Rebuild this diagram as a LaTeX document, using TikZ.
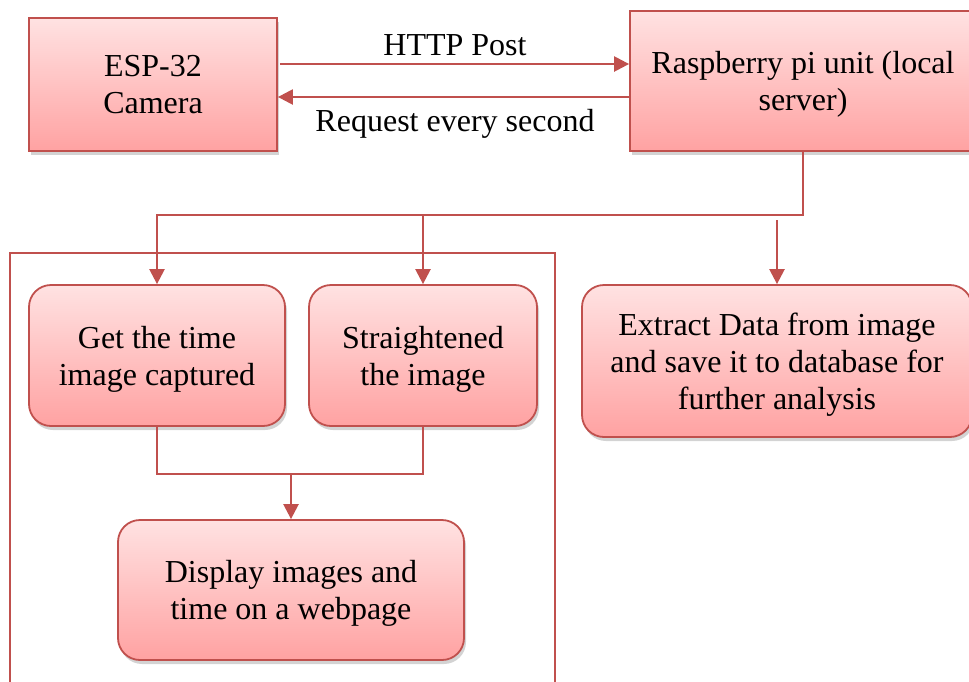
\documentclass[tikz,border=0pt]{standalone}
\usepackage{fontspec}
\setmainfont{Liberation Serif}
\usetikzlibrary{arrows.meta,shadows,calc}
\definecolor{acc}{HTML}{C0504D}
\definecolor{topc}{HTML}{FFE2E2}
\definecolor{botc}{HTML}{FFA2A2}
\tikzset{
  box/.style={draw=acc, line width=1.8pt, top color=topc, bottom color=botc,
    drop shadow={opacity=0.35, shadow xshift=2pt, shadow yshift=-4pt},
    align=center, inner sep=0pt, text depth=0pt, font=\fontsize{32}{37}\selectfont},
  rbox/.style={box, rounded corners=22pt},
  conn/.style={draw=acc, line width=2.4pt},
  arr/.style={conn, -{Triangle[length=15pt,width=15pt]}},
  lbl/.style={font=\fontsize{32}{37}\selectfont, inner sep=0pt},
  frame/.style={draw=acc, line width=1.5pt}
}
\begin{document}
\begin{tikzpicture}[x=1pt,y=-1pt]
\useasboundingbox (0,0) rectangle (969,681);
\begin{scope}
\clip (0,0) rectangle (969,681);
% outline frame
\draw[frame] (10,690) -- (10,253) -- (555,253) -- (555,690);
% boxes
\node[box, text depth=-6pt, minimum width=248pt, minimum height=133pt] (esp) at (153,84.5) {ESP-32\\Camera};
\node[box, minimum width=346pt, minimum height=140pt] (rasp) at (803,81) {Raspberry pi unit (local\\server)};
\node[rbox, minimum width=256pt, minimum height=141pt] (get) at (157,355.5) {Get the time\\image captured};
\node[rbox, minimum width=228pt, minimum height=141pt] (str) at (423,355.5) {Straightened\\the image};
\node[rbox, minimum width=390pt, minimum height=152pt] (ext) at (777,361) {Extract Data from image\\and save it to database for\\further analysis};
\node[rbox, minimum width=346pt, minimum height=140pt] (disp) at (291,590) {Display images and\\time on a webpage};
% top arrows
\coordinate (ytop) at (0,64);
\coordinate (ybot) at (0,97);
\draw[arr] (esp.east |- ytop) ++(2,0) -- (rasp.west |- ytop);
\draw[arr] (rasp.west |- ybot) -- (esp.east |- ybot);
\node[lbl] (http) at (455,45) {HTTP Post};
\node[lbl] (req) at (455,124) {Request every second};
% distribution
\coordinate (bus) at (0,215);
\coordinate (ebus) at (0,220);
\draw[arr] (rasp.south) |- (get.north |- bus) -- (get.north);
\draw[arr] (str.north |- bus) -- (str.north);
\draw[arr] (ext.north |- ebus) -- (ext.north);
% merge
\coordinate (mbus) at (0,474);
\draw[conn] (get.south) |- (str.south |- mbus) -- (str.south);
\draw[arr] (disp.north |- mbus) -- (disp.north);
\end{scope}
\end{tikzpicture}
\end{document}
